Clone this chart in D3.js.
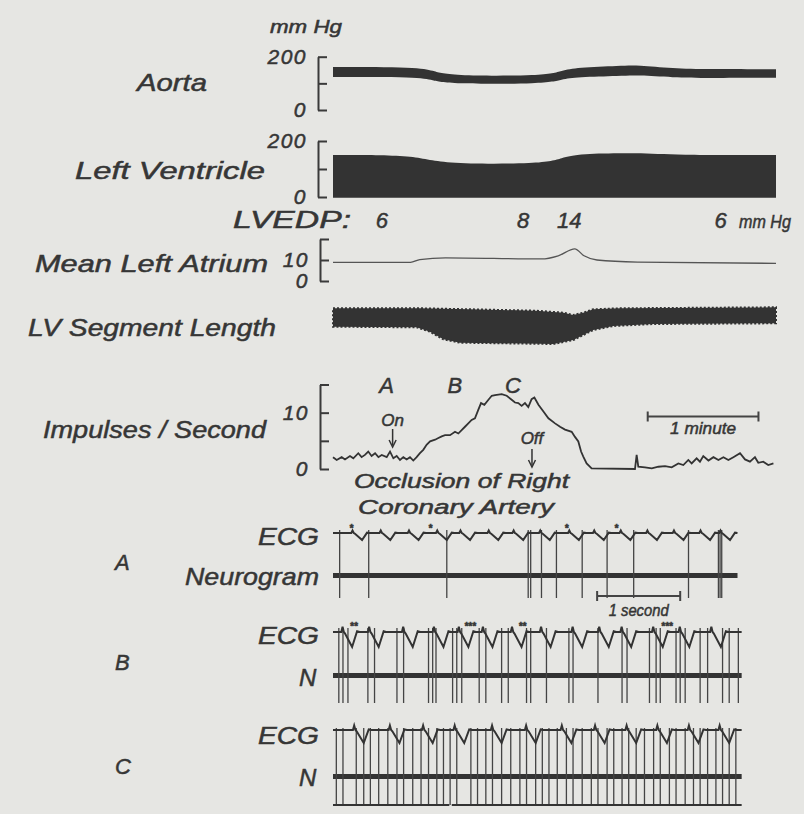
<!DOCTYPE html>
<html>
<head>
<meta charset="utf-8">
<script src="https://cdn.jsdelivr.net/npm/d3@7"></script>
<style>
  body { margin: 0; background: #e6e6e3; }
  svg { display: block; }
  .lbl { font-family: "Liberation Sans", Arial, sans-serif; font-style: italic; fill: #363636; stroke: #363636; stroke-width: 0.5px; }
  .axis path, .axis line { stroke: #3a3a3a; stroke-width: 2; fill: none; }
  .axis text { font-family: "Liberation Sans", Arial, sans-serif; font-style: italic; font-size: 21px; fill: #363636; stroke: #363636; stroke-width: 0.5px; letter-spacing: 1.5px; }
</style>
</head>
<body>
<svg width="804" height="814"></svg>
<script>
var svg = d3.select('svg');
var ink = '#333';

// ---- slow record, time in seconds ----
var aortaTime = [0, 46, 54, 62, 115, 124, 132, 156, 165, 184, 203, 240];
var aortaSys  = [161, 161, 148, 128, 128, 148, 160, 166, 169, 156, 153, 153];
var aortaDia  = [124, 124, 112, 98, 98, 115, 124, 128, 131, 122, 120, 121];

var lvTime = [0, 46, 56, 114, 124, 133, 166, 185, 240];
var lvSys  = [150, 150, 118, 118, 140, 155, 158, 150, 150];

var lvedpTime  = [26.5, 103, 128, 210];
var lvedpValue = [6, 8, 14, 6];

var laTime = [0, 42, 47, 61, 113, 122, 131, 136, 143, 165, 240];
var laMean = [8.9, 8.9, 10.2, 11.0, 10.5, 12, 15.3, 12, 10, 9, 8.4];

// segment length (mm), upper and lower envelope
var segTopTime = [0, 47, 74, 110, 125, 130, 135.6, 141, 155.5, 240];
var segTop     = [13.17, 13.17, 13.07, 12.93, 12.73, 12.5, 12.73, 13.07, 13.17, 13.27];
var segBotTime = [0, 45.3, 52.5, 59.8, 68.8, 119.4, 130.2, 141, 151.9, 173.6, 240];
var segBot     = [11.33, 11.27, 10.83, 10.07, 9.73, 9.6, 10.0, 11.0, 11.4, 11.6, 11.67];

var impTime = [0, 2.0, 4.7, 6.5, 9.2, 11.0, 13.7, 15.5, 17.3, 19.1, 20.9, 22.8, 24.6, 26.4, 29.1, 30.9,
  32.7, 34.5, 36.3, 38.1, 39.9, 41.7, 43.5, 45.3, 47.1, 48.9, 50.7, 52.6, 55.3, 57.1, 58.9, 60.7,
  63.4, 66.1, 67.9, 69.7, 71.5, 73.3, 75.1, 76.9, 78.7, 80.2, 82.0, 84.2, 86.0, 87.8, 91.4, 94.1,
  96.8, 98.6, 100.4, 102.2, 104.0, 105.8, 107.6, 109.1, 111.3, 114.0, 116.7, 120.3, 123.0, 125.7,
  129.3, 131.1, 132.9, 134.4, 135.6, 137.4, 140.1, 163.6, 164.5, 165.4, 169.0, 172.7, 176.3, 179.9,
  183.5, 187.1, 189.8, 192.5, 194.3, 197.0, 198.8, 200.6, 203.4, 206.1, 208.8, 211.5, 214.2, 216.9,
  220.5, 223.2, 225.9, 228.6, 230.4, 233.1, 235.8, 238.6];
var impRate = [2.1, 1.6, 2.1, 1.7, 2.3, 1.9, 2.8, 2.1, 2.5, 3.1, 2.3, 2.8, 2.1, 2.5, 2.1, 3.1,
  1.9, 2.3, 1.6, 2.1, 1.7, 2.1, 1.5, 2.1, 2.8, 3.4, 4.3, 4.9, 5.2, 5.5, 5.8, 6.0,
  6.0, 6.6, 6.3, 6.9, 7.5, 8.1, 8.7, 9.0, 10.5, 11.7, 11.4, 12.3, 13.0, 13.1, 13.3, 13.0,
  12.3, 11.8, 11.7, 11.2, 11.7, 11.0, 12.4, 12.7, 11.4, 10.2, 9.0, 8.1, 7.5, 7.0,
  6.6, 5.7, 4.9, 3.1, 2.2, 1.0, 0.1, 0, 2.5, 0.4, 0.3, 0.1, 0.4, 0.5,
  0.3, 1.0, 0.7, 1.6, 1.0, 1.9, 1.3, 2.3, 1.5, 2.1, 1.6, 2.1, 1.6, 2.1,
  2.8, 1.7, 1.3, 2.1, 1.1, 1.3, 0.7, 1.0];

var sampleNames = ['A', 'B', 'C'];
var sampleTimes = [29, 66, 97.5];
var occlusionOn = 32.3;
var occlusionOff = 107.8;
var minuteBar = [170.5, 230.5];

// ---- fast records, time in seconds ----
var ecgDt = [-0.13, -0.115, -0.10, -0.085, 0, 0.06, 0.09];
var ecgMv = [0, 0.35, 0, -0.1, -1, 0.05, 0];

var dipsA = [0.35, 0.69, 1.03, 1.37, 1.65, 1.99, 2.29, 2.61, 2.96, 3.26, 3.58, 3.90, 4.22, 4.54, 4.78];
var dipsB = [0.23, 0.55, 0.96, 1.33, 1.63, 1.92, 2.27, 2.62, 3.00, 3.32, 3.59, 3.97, 4.29, 4.67];
var dipsC = [0.37, 0.80, 1.20, 1.58, 2.03, 2.44, 2.87, 3.27, 3.65, 4.02, 4.40, 4.77];

var spikesA = [0.08, 0.43, 1.37, 2.35, 2.38, 2.51, 2.69, 3.00, 3.30, 3.62, 4.28, 4.64, 4.66, 4.68];
var spikesB = [0.07, 0.12, 0.18, 0.42, 0.50, 0.77, 0.85, 1.15, 1.20, 1.24, 1.44, 1.49, 1.55, 1.76,
  1.84, 2.03, 2.11, 2.33, 2.38, 2.57, 2.84, 2.89, 3.19, 3.48, 3.54, 3.81, 3.89, 3.94, 4.13,
  4.18, 4.24, 4.42, 4.51, 4.69, 4.77, 4.88];
var spikesC = [0.04, 0.12, 0.28, 0.37, 0.45, 0.55, 0.66, 0.77, 0.85, 0.96, 1.06, 1.15, 1.25, 1.33,
  1.41, 1.49, 1.66, 1.74, 1.84, 1.92, 2.03, 2.14, 2.25, 2.33, 2.44, 2.52, 2.60, 2.70, 2.81, 2.89,
  3.00, 3.11, 3.19, 3.30, 3.38, 3.48, 3.56, 3.65, 3.75, 3.86, 3.94, 4.05, 4.13, 4.24, 4.34, 4.42,
  4.51, 4.61, 4.69, 4.77, 4.85];

var starTimesA = [0.22, 1.17, 2.81, 3.41];
var starMarksA = ['*', '*', '*', '*'];
var starTimesB = [0.25, 1.65, 2.28, 4.02];
var starMarksB = ['**', '***', '**', '***'];

var secondBar = [3.18, 4.18];

// ---- scales ----
var xTime = d3.scaleLinear().domain([0, 240]).range([333, 776]);
var aortaY = d3.scaleLinear().domain([0, 200]).range([110, 56.7]);
var lvY = d3.scaleLinear().domain([0, 200]).range([197, 141]);
var laY = d3.scaleLinear().domain([0, 20]).range([281, 239]);
var segY = d3.scaleLinear().domain([9, 14]).range([350, 300]);
var impY = d3.scaleLinear().domain([0, 15]).range([469, 384.5]);
var xFast = d3.scaleLinear().domain([0, 4.9]).range([333, 740]);

function label(txt, x, y, size, len, anchor) {
  var t = svg.append('text').attr('class', 'lbl')
    .attr('x', x).attr('y', y)
    .style('font-size', size + 'px')
    .attr('text-anchor', anchor || 'start')
    .text(txt);
  if (len) t.attr('textLength', len).attr('lengthAdjust', 'spacingAndGlyphs');
  return t;
}

function bracket(scale, x, ticks, labelled) {
  var ax = d3.axisLeft(scale)
    .tickValues(ticks)
    .tickSizeInner(-9)
    .tickSizeOuter(0)
    .tickPadding(11)
    .tickFormat(d => labelled.indexOf(d) >= 0 ? d : '');
  svg.append('g').attr('class', 'axis')
    .attr('transform', 'translate(' + x + ',0)')
    .call(ax);
}

// ---- aorta ----
label('mm Hg', 270, 33, 18, 72);
label('Aorta', 137, 91, 24, 70);
bracket(aortaY, 318, [0, 100, 200], [0, 200]);
var aortaData = aortaTime.map((t, i) => ({t: t, hi: aortaSys[i], lo: aortaDia[i]}));
svg.append('path')
  .datum(aortaData)
  .attr('d', d3.area().curve(d3.curveBasis)
    .x(d => xTime(d.t)).y0(d => aortaY(d.lo)).y1(d => aortaY(d.hi)))
  .style('fill', ink);

// ---- left ventricle ----
label('Left Ventricle', 75, 179, 24, 190);
bracket(lvY, 318, [0, 100, 200], [0, 200]);
var lvData = lvTime.map((t, i) => ({t: t, v: lvSys[i]}));
svg.append('path')
  .datum(lvData)
  .attr('d', d3.area().curve(d3.curveBasis)
    .x(d => xTime(d.t)).y0(lvY(-3)).y1(d => lvY(d.v)))
  .style('fill', ink);

// ---- LVEDP ----
label('LVEDP:', 233, 228, 24, 118);
svg.selectAll('.lvedp').data(lvedpValue).enter()
  .append('text').attr('class', 'lbl lvedp')
  .attr('x', (d, i) => xTime(lvedpTime[i]))
  .attr('y', 228)
  .attr('text-anchor', 'middle')
  .style('font-size', '22px')
  .text(d => d);
label('mm Hg', 739, 228, 19, 52);

// ---- mean left atrium ----
label('Mean Left Atrium', 35, 272, 24, 233);
bracket(laY, 320, [0, 10, 20], [0, 10]);
svg.append('path')
  .datum(laTime.map((t, i) => [t, laMean[i]]))
  .attr('d', d3.line().curve(d3.curveMonotoneX).x(d => xTime(d[0])).y(d => laY(d[1])))
  .style('fill', 'none').style('stroke', '#555').style('stroke-width', 1.3);

// ---- LV segment length ----
label('LV Segment Length', 28, 336, 24, 248);
var segOutline = segTopTime.map((t, i) => [t, segTop[i]])
  .concat(segBotTime.map((t, i) => [t, segBot[i]]).reverse());
svg.append('path')
  .datum(segOutline)
  .attr('d', d3.line().curve(d3.curveLinearClosed).x(d => xTime(d[0])).y(d => segY(d[1])))
  .style('fill', ink)
  .style('stroke', ink).style('stroke-width', 2).style('stroke-dasharray', '2 2');

// ---- impulses / second ----
label('Impulses / Second', 43, 438, 24, 223);
bracket(impY, 320, [0, 5, 10, 15], [0, 10]);
svg.append('path')
  .datum(impTime.map((t, i) => [t, impRate[i]]))
  .attr('d', d3.line().x(d => xTime(d[0])).y(d => impY(d[1])))
  .style('fill', 'none').style('stroke', ink).style('stroke-width', 1.8);

svg.selectAll('.sample').data(sampleNames).enter()
  .append('text').attr('class', 'lbl sample')
  .attr('x', (d, i) => xTime(sampleTimes[i]))
  .attr('y', 393)
  .attr('text-anchor', 'middle')
  .style('font-size', '22px')
  .text(d => d);

function arrow(t, y1, y2) {
  var x = xTime(t);
  svg.append('line').attr('x1', x).attr('x2', x).attr('y1', y1).attr('y2', y2 - 2)
    .style('stroke', ink).style('stroke-width', 1.5);
  svg.append('path')
    .attr('d', 'M' + (x - 3.5) + ',' + (y2 - 7) + 'L' + x + ',' + y2 + 'L' + (x + 3.5) + ',' + (y2 - 7))
    .style('fill', 'none').style('stroke', ink).style('stroke-width', 1.5);
}
label('On', xTime(occlusionOn), 426, 17, null, 'middle');
arrow(occlusionOn, 429, 447);
label('Off', xTime(occlusionOff), 444, 17, null, 'middle');
arrow(occlusionOff, 449, 467);

label('Occlusion of Right', 354, 488, 20, 215);
label('Coronary Artery', 358, 514, 20, 196);

function scaleBar(x1, x2, y) {
  svg.append('path')
    .attr('d', 'M' + x1 + ',' + (y - 5) + 'V' + (y + 5) + 'M' + x1 + ',' + y + 'H' + x2 +
      'M' + x2 + ',' + (y - 5) + 'V' + (y + 5))
    .style('fill', 'none').style('stroke', '#444').style('stroke-width', 2);
}
scaleBar(xTime(minuteBar[0]), xTime(minuteBar[1]), 416.5);
label('1 minute', (xTime(minuteBar[0]) + xTime(minuteBar[1])) / 2, 434, 17, 66, 'middle');

// ---- fast ECG / neurogram panels ----
function ecgPoints(dips, end) {
  var pts = [[0, 0]];
  dips.forEach(function(d) {
    ecgDt.forEach(function(dt, i) {
      var t = d + dt;
      if (t > 0 && t < end) pts.push([t, ecgMv[i]]);
    });
  });
  pts.push([end, 0]);
  return pts;
}

var panels = [
  {name: 'A', nLabel: 'Neurogram', dips: dipsA, spikes: spikesA, end: 4.87,
   ecgBase: 533, ecgDip: 540, band: 575.5, top: 530, bottom: 598, labelY: 570,
   ecgLabelY: 545, nLabelY: 585, stars: starTimesA, marks: starMarksA},
  {name: 'B', nLabel: 'N', dips: dipsB, spikes: spikesB, end: 4.92,
   ecgBase: 632, ecgDip: 647, band: 675.5, top: 628, bottom: 703, labelY: 670,
   ecgLabelY: 644, nLabelY: 686, stars: starTimesB, marks: starMarksB},
  {name: 'C', nLabel: 'N', dips: dipsC, spikes: spikesC, end: 4.92,
   ecgBase: 730, ecgDip: 743, band: 776.5, top: 728, bottom: 805, labelY: 774,
   ecgLabelY: 744, nLabelY: 786, stars: [], marks: []}
];

panels.forEach(function(p) {
  var ecgY = d3.scaleLinear().domain([-1, 0]).range([p.ecgDip, p.ecgBase]);
  var nY = d3.scaleLinear().domain([-0.6, 0, 1]).range([p.bottom, p.band, p.top]);

  label(p.name, 115, p.labelY, 22);
  label('ECG', 258, p.ecgLabelY, 24, 61);
  if (p.nLabel === 'N') label('N', 299, p.nLabelY, 24);
  else label(p.nLabel, 185, p.nLabelY, 24, 134);

  // neurogram band
  svg.append('line')
    .attr('x1', xFast(0)).attr('x2', xFast(p.end))
    .attr('y1', nY(0)).attr('y2', nY(0))
    .style('stroke', ink).style('stroke-width', 5);

  // large units crossing both traces
  svg.append('g').selectAll('line').data(p.spikes).enter()
    .append('line')
    .attr('x1', d => xFast(d)).attr('x2', d => xFast(d))
    .attr('y1', nY(1)).attr('y2', nY(-0.6))
    .style('stroke', '#444').style('stroke-width', 1.3);

  svg.append('path')
    .datum(ecgPoints(p.dips, p.end))
    .attr('d', d3.line().x(d => xFast(d[0])).y(d => ecgY(d[1])))
    .style('fill', 'none').style('stroke', ink).style('stroke-width', 2);

  svg.append('g').selectAll('text').data(p.stars).enter()
    .append('text').attr('class', 'lbl')
    .attr('x', d => xFast(d)).attr('y', p.top + 2)
    .attr('text-anchor', 'middle')
    .style('font-size', '10px').style('font-weight', 'bold')
    .text((d, i) => p.marks[i]);
});

// time marker line under panel C
svg.append('path')
  .attr('d', 'M' + xFast(0) + ',805H' + xFast(1.40) + 'M' + xFast(1.43) + ',805H' + xFast(4.92))
  .style('stroke', ink).style('stroke-width', 2);

scaleBar(xFast(secondBar[0]), xFast(secondBar[1]), 596);
label('1 second', (xFast(secondBar[0]) + xFast(secondBar[1])) / 2, 616, 17, 60, 'middle');
</script>
</body>
</html>
